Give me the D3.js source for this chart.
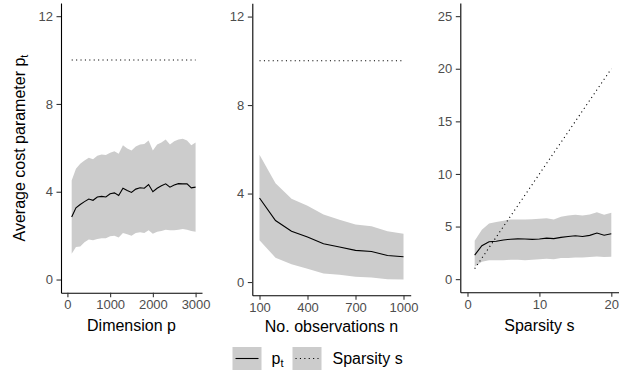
<!DOCTYPE html>
<html>
<head>
<meta charset="utf-8">
<script src="https://cdn.jsdelivr.net/npm/d3@7"></script>
<style>
  body { margin: 0; background: #fff; }
  svg, svg text { font-family: "Liberation Sans", Arial, sans-serif; }
</style>
</head>
<body>
<div id="chart"></div>
<script>
// panel 1: dimension p
var dimP = [100, 200, 300, 400, 500, 600, 700, 800, 900, 1000, 1100, 1200, 1300, 1400, 1500,
            1600, 1700, 1800, 1900, 2000, 2100, 2200, 2300, 2400, 2500, 2600, 2700, 2800, 2900, 3000];
var dimMean = [2.85, 3.27, 3.42, 3.55, 3.67, 3.61, 3.76, 3.79, 3.76, 3.91, 3.95, 3.83, 4.16, 4.06, 3.97,
               4.12, 4.18, 4.16, 4.33, 4.00, 4.16, 4.27, 4.36, 4.21, 4.31, 4.37, 4.36, 4.36, 4.18, 4.21];
var dimUpper = [4.51, 5.05, 5.27, 5.42, 5.55, 5.48, 5.64, 5.70, 5.67, 5.78, 5.85, 5.73, 6.12, 5.97, 5.88,
                6.06, 6.15, 6.18, 6.33, 5.88, 6.15, 6.24, 6.38, 6.15, 6.30, 6.38, 6.41, 6.33, 6.12, 6.24];
var dimLower = [1.18, 1.48, 1.51, 1.70, 1.82, 1.79, 1.85, 1.88, 1.88, 1.97, 2.00, 1.91, 2.12, 2.06, 2.00,
                2.12, 2.15, 2.12, 2.24, 2.09, 2.18, 2.21, 2.27, 2.24, 2.24, 2.27, 2.30, 2.27, 2.21, 2.18];

// panel 2: number of observations n
var obsN = [100, 200, 300, 400, 500, 600, 700, 800, 900, 1000];
var obsMean = [3.80, 2.78, 2.30, 2.04, 1.73, 1.58, 1.43, 1.38, 1.20, 1.14];
var obsUpper = [5.75, 4.47, 3.77, 3.45, 3.05, 2.82, 2.60, 2.52, 2.30, 2.18];
var obsLower = [1.89, 1.10, 0.80, 0.60, 0.39, 0.33, 0.24, 0.21, 0.12, 0.11];

// panel 3: sparsity s
var spS = [1, 2, 3, 4, 5, 6, 7, 8, 9, 10, 11, 12, 13, 14, 15, 16, 17, 18, 19, 20];
var spMean = [2.28, 3.18, 3.56, 3.60, 3.72, 3.80, 3.83, 3.82, 3.78, 3.82, 3.90, 3.85, 3.97, 4.05, 4.12,
              4.06, 4.16, 4.38, 4.18, 4.32];
var spUpper = [3.65, 4.70, 5.30, 5.44, 5.56, 5.67, 5.67, 5.67, 5.70, 5.74, 5.80, 5.68, 5.92, 6.05, 6.11,
               6.05, 6.14, 6.36, 6.11, 6.30];
var spLower = [1.17, 1.65, 1.80, 1.80, 1.80, 1.84, 1.84, 1.80, 1.84, 1.90, 1.93, 1.90, 2.00, 2.02, 2.05,
               2.05, 2.10, 2.15, 2.10, 2.12];

var sparsityFixed = 10; // true sparsity in panels 1 and 2

var dimTicksX = [0, 1000, 2000, 3000];
var obsTicksX = [100, 400, 700, 1000];
var spTicksX = [0, 10, 20];
var ticksY12 = [0, 4, 8, 12];
var ticksY25 = [0, 5, 10, 15, 20, 25];

var width = 634, height = 381;
var bandColor = "#cccccc";
var font = "'Liberation Sans', Arial, sans-serif";

var svg = d3.select("#chart").append("svg")
    .attr("width", width)
    .attr("height", height);

function rows(xs, mean, lo, hi, sp) {
    return xs.map(function(x, i) {
        return { x: x, m: mean[i], lo: lo[i], hi: hi[i], s: sp ? sp[i] : sparsityFixed };
    });
}

var panels = [
    { data: rows(dimP, dimMean, dimLower, dimUpper), xd: [-150, 3150], xr: [61, 202],
      yd: [-0.6, 12.6], yr: [292.7, 3], xt: dimTicksX, yt: ticksY12, title: "Dimension p", tb: 331 },
    { data: rows(obsN, obsMean, obsLower, obsUpper), xd: [55, 1045], xr: [252.3, 410.7],
      yd: [-0.6, 12.6], yr: [295.3, 3.3], xt: obsTicksX, yt: ticksY12, title: "No. observations n", tb: 332 },
    { data: rows(spS, spMean, spLower, spUpper, spS), xd: [-1, 21], xr: [460.3, 618.5],
      yd: [-1.25, 26.25], yr: [292.3, 3], xt: spTicksX, yt: ticksY25, title: "Sparsity s", tb: 331 }
];

panels.forEach(function(p) {
    var x = d3.scaleLinear().domain(p.xd).range(p.xr);
    var y = d3.scaleLinear().domain(p.yd).range(p.yr);
    var g = svg.append("g");

    g.append("path")
        .datum(p.data)
        .attr("fill", bandColor)
        .attr("d", d3.area().x(d => x(d.x)).y0(d => y(d.lo)).y1(d => y(d.hi)));

    g.append("path")
        .datum(p.data)
        .attr("fill", "none")
        .attr("stroke", "#000")
        .attr("stroke-width", 1.1)
        .attr("d", d3.line().x(d => x(d.x)).y(d => y(d.m)));

    g.append("path")
        .datum(p.data)
        .attr("fill", "none")
        .attr("stroke", "#000")
        .attr("stroke-width", 1.1)
        .attr("stroke-dasharray", "1.1,3.3")
        .attr("d", d3.line().x(d => x(d.x)).y(d => y(d.s)));

    // axes, theme_classic look
    var xAxis = g.append("g")
        .attr("transform", "translate(0," + p.yr[0] + ")")
        .call(d3.axisBottom(x).tickValues(p.xt).tickFormat(d3.format("d"))
            .tickSize(4.5).tickPadding(3).tickSizeOuter(0));
    var yAxis = g.append("g")
        .attr("transform", "translate(" + p.xr[0] + ",0)")
        .call(d3.axisLeft(y).tickValues(p.yt).tickFormat(d3.format("d"))
            .tickSize(4.5).tickPadding(3.5).tickSizeOuter(0));

    [xAxis, yAxis].forEach(function(a) {
        a.attr("font-family", font);
        a.select(".domain").attr("stroke", "#000").attr("stroke-width", 1.1);
        a.selectAll(".tick line").attr("stroke", "#333").attr("stroke-width", 1.1);
        a.selectAll(".tick text").attr("fill", "#4d4d4d").style("font-size", "13px");
    });

    svg.append("text")
        .attr("x", (p.xr[0] + p.xr[1]) / 2)
        .attr("y", p.tb)
        .attr("text-anchor", "middle")
        .style("font-size", "16px")
        .text(p.title);
});

// y axis title
var yt = svg.append("text")
    .attr("transform", "translate(25,148)rotate(-90)")
    .attr("text-anchor", "middle")
    .style("font-size", "16px");
yt.append("tspan").text("Average cost parameter p");
yt.append("tspan").attr("dy", 3).style("font-size", "11px").text("t");

// legend
var keyW = 29, keyH = 23, keyY = 347;
var legend = svg.append("g");

legend.append("rect").attr("x", 232.5).attr("y", keyY).attr("width", keyW).attr("height", keyH)
    .attr("fill", bandColor);
legend.append("line").attr("x1", 235.5).attr("x2", 258.5)
    .attr("y1", keyY + keyH / 2).attr("y2", keyY + keyH / 2)
    .attr("stroke", "#000").attr("stroke-width", 1.1);
var l1 = legend.append("text").attr("x", 271.5).attr("y", keyY + keyH / 2 + 5.5)
    .style("font-size", "16px");
l1.append("tspan").text("p");
l1.append("tspan").attr("dy", 3).style("font-size", "11px").text("t");

legend.append("rect").attr("x", 292.5).attr("y", keyY).attr("width", keyW).attr("height", keyH)
    .attr("fill", bandColor);
legend.append("line").attr("x1", 295.5).attr("x2", 318.5)
    .attr("y1", keyY + keyH / 2).attr("y2", keyY + keyH / 2)
    .attr("stroke", "#000").attr("stroke-width", 1.1).attr("stroke-dasharray", "1.1,3.3");
legend.append("text").attr("x", 332.5).attr("y", keyY + keyH / 2 + 5.5)
    .style("font-size", "16px")
    .text("Sparsity s");
</script>
</body>
</html>
